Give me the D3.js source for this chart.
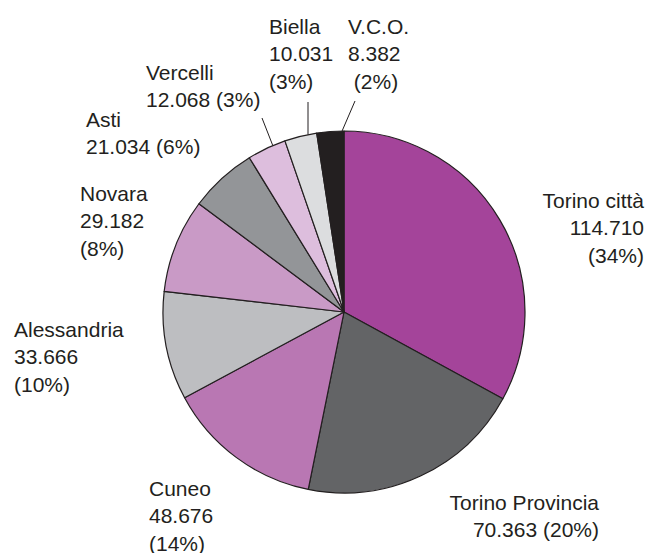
<!DOCTYPE html>
<html>
<head>
<meta charset="utf-8">
<script src="https://cdn.jsdelivr.net/npm/d3@7"></script>
<style>
  html, body { margin: 0; padding: 0; background: #fff; }
  svg { display: block; }
  text { font-family: "Liberation Sans", Arial, Helvetica, sans-serif; fill: #231f20; }
</style>
</head>
<body>
<svg id="chart" width="646" height="553"></svg>
<script>
// provinces, clockwise from 12 o'clock
const categories = ['Torino città', 'Torino Provincia', 'Cuneo', 'Alessandria', 'Novara', 'Asti', 'Vercelli', 'Biella', 'V.C.O.'];
const values = [114710, 70363, 48676, 33666, 29182, 21034, 12068, 10031, 8382];
const percents = [34, 20, 14, 10, 8, 6, 3, 3, 2];
const colors = ['#a4449a', '#636466', '#b977b3', '#bdbec1', '#c99ac6', '#939598', '#ddbedd', '#dcdddf', '#231f20'];

const config = {
  'cx': 344,
  'cy': 312,
  'radius': 181,
  'font-size': '21px',
  'line-height': 27.3,
  'stroke': '#231f20',
  'stroke-width': 1.2
};

// where each label sits; rows: n = name, v = value, p = percent
const labelLayout = [
  { x: 644, y: 208, anchor: 'end', rows: ['n', 'v', 'p'] },
  { x: 599, y: 510, anchor: 'end', rows: ['n', 'v p'] },
  { x: 149, y: 496, anchor: 'start', rows: ['n', 'v', 'p'] },
  { x: 14, y: 337, anchor: 'start', rows: ['n', 'v', 'p'] },
  { x: 80, y: 201, anchor: 'start', rows: ['n', 'v', 'p'] },
  { x: 86, y: 127, anchor: 'start', rows: ['n', 'v p'] },
  { x: 146, y: 80, anchor: 'start', rows: ['n', 'v p'], leader: { at: 0.67, x: 262, y: 118 } },
  { x: 269, y: 34, anchor: 'start', rows: ['n', 'v', 'p'], leader: { at: 0.73, x: 308, y: 102 } },
  { x: 348, y: 34, anchor: 'start', rows: ['n', 'v', ' p'], leader: { at: 0.93, x: 355, y: 101 } }
];

const d3 = window.d3;
const it = d3.formatLocale({ decimal: ',', thousands: '.', grouping: [3], currency: ['€', ''] });
const fmt = it.format(',d');

const data = categories.map((c, i) => ({ name: c, value: values[i], pct: percents[i], color: colors[i], layout: labelLayout[i] }));

const svg = d3.select('#chart');

const pie = d3.pie()
  .value(d => d.value)
  .sort(null);

const arc = d3.arc()
  .innerRadius(0)
  .outerRadius(config['radius']);

const arcs = pie(data);

const g = svg.append('g')
  .attr('transform', `translate(${config.cx}, ${config.cy})`);

g.selectAll('path.slice')
  .data(arcs)
  .enter()
  .append('path')
  .attr('class', 'slice')
  .attr('d', arc)
  .attr('fill', d => d.data.color)
  .attr('stroke', config['stroke'])
  .attr('stroke-width', config['stroke-width'])
  .attr('stroke-linejoin', 'round');

// leader lines for the thin slices
arcs.filter(d => d.data.layout.leader).forEach(d => {
  const l = d.data.layout.leader;
  const a = d.startAngle + (d.endAngle - d.startAngle) * l.at;
  const x1 = config.cx + Math.sin(a) * config['radius'];
  const y1 = config.cy - Math.cos(a) * config['radius'];
  svg.append('line')
    .attr('x1', x1)
    .attr('y1', y1)
    .attr('x2', l.x)
    .attr('y2', l.y)
    .attr('stroke', config['stroke'])
    .attr('stroke-width', 1);
});

const rowText = (row, d) => row
  .replace('n', '\u0000')
  .replace('v', fmt(d.value))
  .replace('p', `(${d.pct}%)`)
  .replace('\u0000', d.name);

data.forEach(d => {
  const lay = d.layout;
  const text = svg.append('text')
    .attr('x', lay.x)
    .attr('y', lay.y)
    .attr('text-anchor', lay.anchor)
    .style('font-size', config['font-size'])
    .style('white-space', 'pre');
  lay.rows.forEach((r, i) => {
    text.append('tspan')
      .attr('x', lay.x)
      .attr('y', lay.y + i * config['line-height'])
      .text(rowText(r, d));
  });
});
</script>
</body>
</html>
